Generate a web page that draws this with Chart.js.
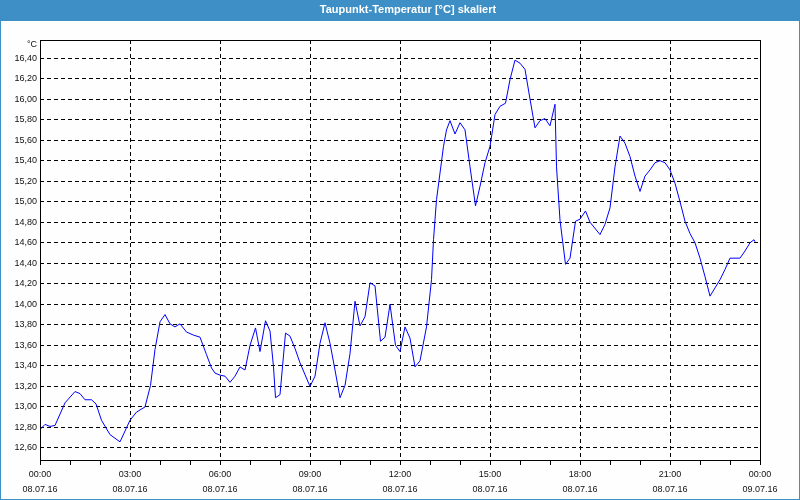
<!DOCTYPE html>
<html><head><meta charset="utf-8">
<script src="https://cdn.jsdelivr.net/npm/chart.js@4"></script>
<style>html,body{margin:0;padding:0;background:#fff}#wrap{width:800px;height:500px;position:relative}canvas{display:block}</style>
</head><body><div id="wrap"><canvas id="c" width="800" height="500"></canvas></div>
<script>
const titleText = 'Taupunkt-Temperatur [°C] skaliert';
const unitLabel = '°C';
// time in minutes since 08.07.16 00:00
const minutes = [0,4,10,20,30,50,70,80,90,103,112,123,140,160,180,193,210,221,230,240,250,260,270,280,293,307,320,333,343,350,360,370,380,390,400,410,420,431,440,451,460,467,471,480,491,500,510,520,540,550,560,570,580,590,600,610,620,630,640,650,660,670,681,690,700,711,720,730,740,750,760,773,783,787,793,800,807,813,820,830,840,850,860,871,880,890,900,910,920,931,940,950,960,970,980,990,1000,1010,1020,1030,1033,1040,1051,1060,1071,1080,1091,1100,1120,1130,1140,1150,1160,1170,1180,1190,1200,1210,1220,1230,1240,1250,1260,1270,1280,1290,1300,1310,1320,1330,1340,1350,1360,1370,1380,1390,1400,1410,1420,1428,1430];
const values = [12.78,12.80,12.83,12.81,12.82,13.04,13.15,13.13,13.07,13.07,13.03,12.87,12.73,12.66,12.87,12.95,13.00,13.21,13.56,13.83,13.90,13.81,13.78,13.81,13.73,13.70,13.68,13.51,13.38,13.33,13.31,13.30,13.24,13.30,13.39,13.36,13.60,13.77,13.54,13.84,13.74,13.39,13.09,13.12,13.72,13.69,13.57,13.43,13.20,13.30,13.62,13.82,13.62,13.36,13.09,13.21,13.52,14.03,13.79,13.88,14.21,14.18,13.64,13.68,14.00,13.60,13.54,13.78,13.67,13.39,13.45,13.78,14.24,14.63,15.02,15.28,15.54,15.70,15.79,15.66,15.77,15.70,15.34,14.96,15.15,15.38,15.54,15.85,15.93,15.96,16.19,16.38,16.35,16.29,16.00,15.72,15.79,15.81,15.74,15.95,15.34,14.82,14.39,14.45,14.81,14.83,14.91,14.80,14.68,14.78,14.94,15.34,15.64,15.57,15.44,15.25,15.10,15.25,15.31,15.38,15.40,15.38,15.31,15.18,15.00,14.81,14.69,14.60,14.45,14.27,14.08,14.16,14.24,14.34,14.45,14.45,14.45,14.52,14.60,14.63,14.61];
const yTicks = [12.6,12.8,13.0,13.2,13.4,13.6,13.8,14.0,14.2,14.4,14.6,14.8,15.0,15.2,15.4,15.6,15.8,16.0,16.2,16.4];
const xTimeLabels = ['00:00','03:00','06:00','09:00','12:00','15:00','18:00','21:00','00:00'];
const xDateLabels = ['08.07.16','08.07.16','08.07.16','08.07.16','08.07.16','08.07.16','08.07.16','08.07.16','09.07.16'];

const BLUE = '#3d8fc6';
const FONT = '"Liberation Sans", Arial, sans-serif';
const TEXT = '#101010';

const framePlugin = {
  id: 'frame',
  beforeDraw(chart) {
    const ctx = chart.ctx;
    ctx.save();
    ctx.fillStyle = '#fdfefd';
    ctx.fillRect(0, 0, 800, 500);
    ctx.fillStyle = BLUE;
    ctx.fillRect(0, 0, 800, 21);
    ctx.strokeStyle = BLUE;
    ctx.lineWidth = 1;
    ctx.strokeRect(0.5, 0.5, 799, 499);
    ctx.fillStyle = '#ffffff';
    ctx.font = 'bold 11px ' + FONT;
    ctx.textAlign = 'center';
    ctx.textBaseline = 'middle';
    ctx.fillText(titleText, 408, 10);
    ctx.fillStyle = TEXT;
    ctx.font = '9px ' + FONT;
    ctx.textAlign = 'right';
    ctx.fillText(unitLabel, 37, 45);
    ctx.restore();
  },
  afterDraw(chart) {
    const ca = chart.chartArea;
    const ctx = chart.ctx;
    ctx.save();
    ctx.strokeStyle = '#000';
    ctx.lineWidth = 1;
    ctx.strokeRect(Math.round(ca.left) + 0.5, Math.round(ca.top) + 0.5, Math.round(ca.right - ca.left), Math.round(ca.bottom - ca.top));
    ctx.restore();
  }
};

new Chart(document.getElementById('c'), {
  type: 'line',
  data: {
    datasets: [{
      data: minutes.map((m, i) => ({ x: m, y: values[i] })),
      borderColor: '#0000ff',
      borderWidth: 1,
      pointRadius: 0,
      tension: 0,
      fill: false
    }]
  },
  options: {
    responsive: false,
    devicePixelRatio: 1,
    animation: false,
    layout: { padding: { top: 40, right: 40, left: 0, bottom: 0 } },
    plugins: { legend: { display: false }, tooltip: { enabled: false }, title: { display: false } },
    scales: {
      x: {
        type: 'linear',
        min: 0, max: 1440,
        afterBuildTicks: s => { s.ticks = Array.from({ length: 25 }, (_, h) => ({ value: h * 60 })); },
        afterFit: s => { s.height = 40; },
        border: { display: false, dash: [4, 3] },
        grid: {
          color: c => (c.tick && c.tick.value % 180 === 0) ? '#000' : 'rgba(0,0,0,0)',
          tickColor: '#000',
          tickLength: 5,
          tickBorderDash: [],
          lineWidth: 1
        },
        ticks: {
          autoSkip: false, maxRotation: 0, minRotation: 0,
          color: TEXT, padding: 2,
          font: { family: FONT, size: 9, lineHeight: 1.65 },
          callback: v => {
            if (v % 180 !== 0) return '';
            const i = v / 180;
            return [xTimeLabels[i], xDateLabels[i]];
          }
        }
      },
      y: {
        min: 12.483, max: 16.576,
        afterBuildTicks: s => { s.ticks = yTicks.map(v => ({ value: v })); },
        afterFit: s => { s.width = 40; },
        border: { display: false, dash: [4, 3] },
        grid: { color: '#000', drawTicks: false, lineWidth: 1 },
        ticks: {
          color: TEXT, padding: 3,
          font: { family: FONT, size: 9 },
          callback: v => Number(v).toFixed(2).replace('.', ',')
        }
      }
    }
  },
  plugins: [framePlugin]
});
</script>
</body></html>
